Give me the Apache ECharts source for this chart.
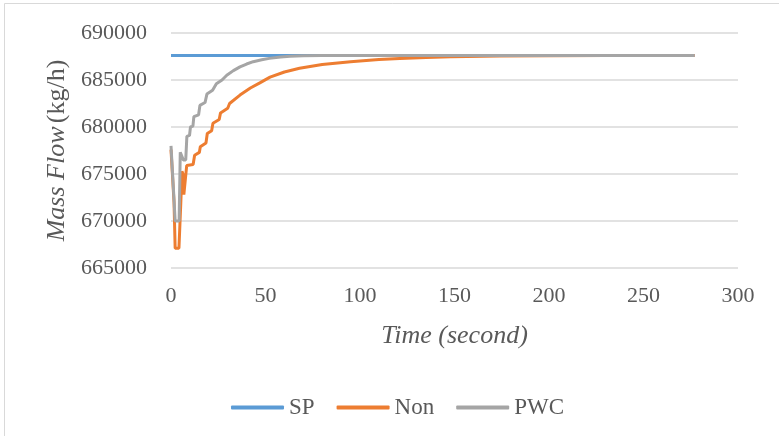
<!DOCTYPE html>
<html>
<head>
<meta charset="utf-8">
<script src="https://cdn.jsdelivr.net/npm/echarts@6/dist/echarts.min.js"></script>
<style>
  html, body { margin: 0; padding: 0; background: #ffffff; }
  #chart { width: 779px; height: 436px; }
</style>
</head>
<body>
<div id="chart"></div>
<script>
// Set point (constant target)
const spTime = [0, 277];
const spFlow = [687600, 687600];

// Uncontrolled response ("Non")
const nonTime = [0, 0.8, 1.6, 2.2, 4.2, 5.2, 5.8, 6.3, 6.8, 7.6, 8.3, 11.7, 12.5, 15, 15.5, 18.5, 19.2, 21.5, 22.2, 25.5, 26.2, 30, 31, 36.5, 42, 47, 52.4, 60, 68, 80, 95, 110, 121, 135, 148, 174, 200, 230, 277];
const nonFlow = [677600, 677400, 672000, 667100, 667100, 672000, 675300, 675000, 672800, 672800, 675900, 676000, 677000, 677300, 677900, 678300, 679300, 679600, 680400, 680800, 681500, 682000, 682500, 683400, 684150, 684700, 685300, 685850, 686250, 686650, 686950, 687180, 687300, 687400, 687480, 687550, 687590, 687600, 687600];

// Plantwide control response ("PWC")
const pwcTime = [0, 0.8, 1.4, 2.2, 4.3, 4.9, 5.6, 6.5, 7.8, 8.4, 9.8, 10.3, 11.6, 12.1, 14.6, 15.3, 18, 19, 22, 24, 27, 29.5, 33, 36.5, 40, 43.5, 48, 52, 58, 63, 70, 80, 100, 150, 200, 277];
const pwcFlow = [678000, 677900, 673000, 670000, 670000, 677300, 677300, 676500, 676500, 679000, 679100, 680000, 680100, 681100, 681300, 682300, 682600, 683500, 683900, 684600, 685000, 685500, 686000, 686400, 686700, 686950, 687150, 687300, 687450, 687520, 687570, 687600, 687600, 687600, 687600, 687600];

// Axis ticks
const xTicks = [0, 50, 100, 150, 200, 250, 300];
const yTicks = [665000, 670000, 675000, 680000, 685000, 690000];

const pairs = (ts, vs) => ts.map((t, i) => [t, vs[i]]);

const serif = '"Liberation Serif", "Times New Roman", serif';
const labelColor = '#595959';

const chart = echarts.init(document.getElementById('chart'), null, { renderer: 'canvas' });

chart.setOption({
  animation: false,
  backgroundColor: '#ffffff',
  graphic: [{
    type: 'rect',
    shape: { x: 4.5, y: 3.5, width: 900, height: 600 },
    style: { fill: 'none', stroke: '#d9d9d9', lineWidth: 1 },
    silent: true,
    z: -1
  }],
  grid: { left: 171, right: 41, top: 33, bottom: 168 },
  legend: {
    left: 226,
    top: 391,
    itemWidth: 53,
    itemHeight: 4,
    itemGap: 22,
    icon: 'roundRect',
    textStyle: { fontFamily: serif, fontSize: 23, color: labelColor, padding: [0, 0, 0, 0] },
    data: ['SP', 'Non', 'PWC']
  },
  xAxis: {
    type: 'value',
    min: xTicks[0],
    max: xTicks[xTicks.length - 1],
    interval: xTicks[1] - xTicks[0],
    name: 'Time (second)',
    nameLocation: 'middle',
    nameGap: 55,
    nameTextStyle: { fontFamily: serif, fontSize: 26, fontStyle: 'italic', color: labelColor },
    axisLine: { show: false },
    axisTick: { show: false },
    splitLine: { show: false },
    axisLabel: { fontFamily: serif, fontSize: 22, color: labelColor, margin: 17 }
  },
  yAxis: {
    type: 'value',
    min: yTicks[0],
    max: yTicks[yTicks.length - 1],
    interval: yTicks[1] - yTicks[0],
    name: '{i|Mass Flow} {n|(kg/h)}',
    nameLocation: 'middle',
    nameGap: 98,
    nameTextStyle: {
      color: labelColor,
      rich: {
        i: { fontFamily: serif, fontSize: 26, fontStyle: 'italic', color: labelColor },
        n: { fontFamily: serif, fontSize: 26, color: labelColor }
      }
    },
    axisLine: { show: false },
    axisTick: { show: false },
    splitLine: { show: true, lineStyle: { color: '#d9d9d9', width: 1.5 } },
    axisLabel: {
      fontFamily: serif, fontSize: 22, color: labelColor, margin: 24,
      formatter: (v) => String(v)
    }
  },
  series: [
    {
      name: 'SP', type: 'line', showSymbol: false, symbol: 'none',
      data: pairs(spTime, spFlow),
      lineStyle: { color: '#5b9bd5', width: 3 },
      itemStyle: { color: '#5b9bd5' }
    },
    {
      name: 'Non', type: 'line', showSymbol: false, symbol: 'none',
      data: pairs(nonTime, nonFlow),
      lineStyle: { color: '#ed7d31', width: 3 },
      itemStyle: { color: '#ed7d31' }
    },
    {
      name: 'PWC', type: 'line', showSymbol: false, symbol: 'none',
      data: pairs(pwcTime, pwcFlow),
      lineStyle: { color: '#a5a5a5', width: 3 },
      itemStyle: { color: '#a5a5a5' }
    }
  ]
});
</script>
</body>
</html>
